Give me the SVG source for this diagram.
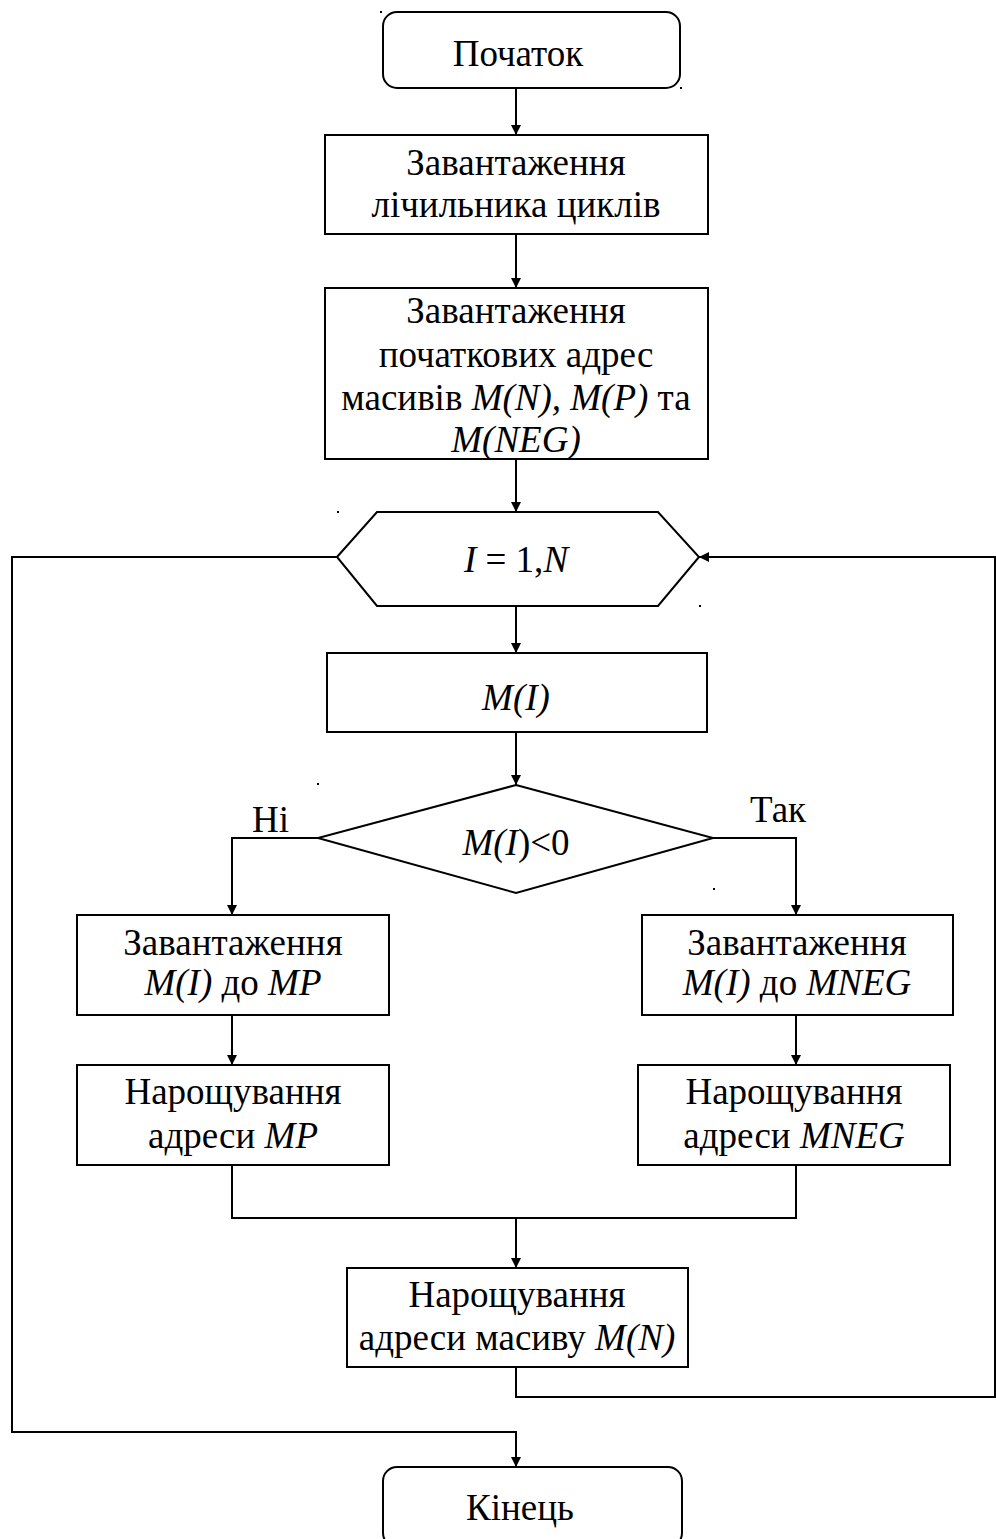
<svg xmlns="http://www.w3.org/2000/svg" width="996" height="1539" viewBox="0 0 996 1539">
  <defs>
    <style>
      .shape { fill: #fff; stroke: #000; stroke-width: 2; }
      .wire { fill: none; stroke: #000; stroke-width: 2; }
      .txt { font-family: "Liberation Serif", "Times New Roman", serif; font-size: 37px; fill: #000; text-anchor: middle; }
      .lbl { font-family: "Liberation Serif", "Times New Roman", serif; font-size: 37px; fill: #000; }
      .it { font-style: italic; }
    </style>
    <marker id="arr" viewBox="0 0 10 10" refX="10" refY="5" markerWidth="11" markerHeight="10" markerUnits="userSpaceOnUse" orient="auto">
      <path d="M0,0 L10,5 L0,10 Z" fill="#000"/>
    </marker>
  </defs>
  <rect width="996" height="1539" fill="#fff"/>

  <!-- connectors -->
  <g id="connectors">
    <line class="wire" x1="516" y1="88" x2="516" y2="135" marker-end="url(#arr)"/>
    <line class="wire" x1="516" y1="234" x2="516" y2="288" marker-end="url(#arr)"/>
    <line class="wire" x1="516" y1="459" x2="516" y2="512" marker-end="url(#arr)"/>
    <line class="wire" x1="516" y1="606" x2="516" y2="653" marker-end="url(#arr)"/>
    <line class="wire" x1="516" y1="732" x2="516" y2="785" marker-end="url(#arr)"/>
    <polyline class="wire" points="318,838 232,838 232,915" marker-end="url(#arr)"/>
    <polyline class="wire" points="713,838 796,838 796,915" marker-end="url(#arr)"/>
    <line class="wire" x1="232" y1="1015" x2="232" y2="1065" marker-end="url(#arr)"/>
    <line class="wire" x1="796" y1="1015" x2="796" y2="1065" marker-end="url(#arr)"/>
    <polyline class="wire" points="232,1165 232,1218 796,1218 796,1165"/>
    <line class="wire" x1="516" y1="1218" x2="516" y2="1268" marker-end="url(#arr)"/>
    <!-- loop back to the counter -->
    <polyline class="wire" points="516,1367 516,1397 995,1397 995,557 699,557" marker-end="url(#arr)"/>
    <!-- loop exit -->
    <polyline class="wire" points="337,557 12,557 12,1432 516,1432 516,1467" marker-end="url(#arr)"/>
  </g>

  <g id="start">
    <rect class="shape" x="383" y="12" width="297" height="76" rx="14"/>
    <text class="txt" x="518" y="66">Початок</text>
  </g>

  <g id="load-counter">
    <rect class="shape" x="325" y="135" width="383" height="99"/>
    <text class="txt" x="516" y="175">Завантаження</text>
    <text class="txt" x="516" y="217">лічильника циклів</text>
  </g>

  <g id="load-addresses">
    <rect class="shape" x="325" y="288" width="383" height="171"/>
    <text class="txt" x="516" y="323">Завантаження</text>
    <text class="txt" x="516" y="367">початкових адрес</text>
    <text class="txt" x="516" y="410">масивів <tspan class="it">M(N), M(P)</tspan> та</text>
    <text class="txt it" x="516" y="452">M(NEG)</text>
  </g>

  <g id="loop">
    <polygon class="shape" points="337,557 377,512 658,512 699,557 658,606 377,606"/>
    <text class="txt" x="516" y="572"><tspan class="it">I</tspan> = 1,<tspan class="it">N</tspan></text>
  </g>

  <g id="read-element">
    <rect class="shape" x="327" y="653" width="380" height="79"/>
    <text class="txt it" x="516" y="710">M(I)</text>
  </g>

  <g id="sign-check">
    <polygon class="shape" points="516,785 713,838 516,893 318,838"/>
    <text class="txt" x="516" y="855"><tspan class="it">M(I</tspan>)&lt;0</text>
    <text class="lbl" x="252" y="832">Ні</text>
    <text class="lbl" x="750" y="822">Так</text>
  </g>

  <g id="store-mp">
    <rect class="shape" x="77" y="915" width="312" height="100"/>
    <text class="txt" x="233" y="955">Завантаження</text>
    <text class="txt" x="233" y="995"><tspan class="it">M(I)</tspan> до <tspan class="it">MP</tspan></text>
  </g>

  <g id="inc-mp">
    <rect class="shape" x="77" y="1065" width="312" height="100"/>
    <text class="txt" x="233" y="1104">Нарощування</text>
    <text class="txt" x="233" y="1148">адреси <tspan class="it">MP</tspan></text>
  </g>

  <g id="store-mneg">
    <rect class="shape" x="642" y="915" width="311" height="100"/>
    <text class="txt" x="797" y="955">Завантаження</text>
    <text class="txt" x="797" y="995"><tspan class="it">M(I)</tspan> до <tspan class="it">MNEG</tspan></text>
  </g>

  <g id="inc-mneg">
    <rect class="shape" x="638" y="1065" width="312" height="100"/>
    <text class="txt" x="794" y="1104">Нарощування</text>
    <text class="txt" x="794" y="1148">адреси <tspan class="it">MNEG</tspan></text>
  </g>

  <g id="inc-source">
    <rect class="shape" x="347" y="1268" width="341" height="99"/>
    <text class="txt" x="517" y="1307">Нарощування</text>
    <text class="txt" x="517" y="1350">адреси масиву <tspan class="it">M(N)</tspan></text>
  </g>

  <g id="end">
    <rect class="shape" x="383" y="1467" width="299" height="80" rx="14"/>
    <text class="txt" x="520" y="1520">Кінець</text>
  </g>

  <!-- small specks -->
  <g id="specks" fill="#000">
    <rect x="380" y="11" width="2" height="2"/>
    <rect x="680" y="87" width="2" height="2"/>
    <rect x="337" y="511" width="2" height="2"/>
    <rect x="699" y="605" width="2" height="2"/>
    <rect x="317" y="783" width="2" height="2"/>
    <rect x="713" y="888" width="2" height="2"/>
  </g>
</svg>
